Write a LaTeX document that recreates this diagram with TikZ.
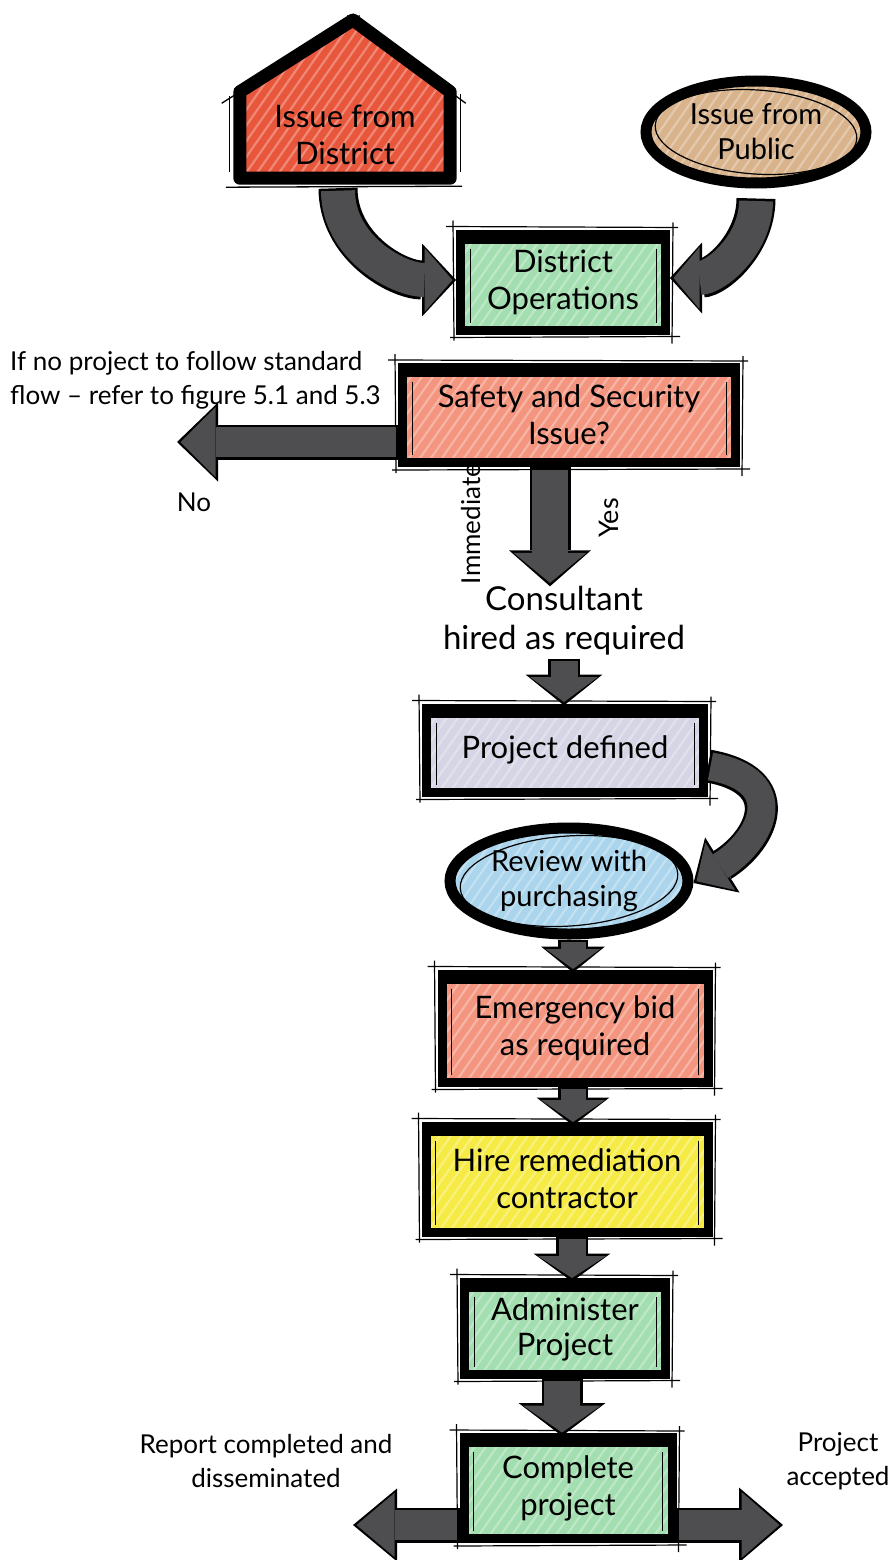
\documentclass[tikz,border=0pt]{standalone}
\usepackage{fontspec}
\setmainfont{Lato}
\usetikzlibrary{arrows.meta,shapes.geometric,patterns.meta,backgrounds,calc}

\definecolor{housered}{HTML}{E8563C}
\definecolor{tanfill}{HTML}{D8B38B}
\definecolor{mint}{HTML}{A2DEB0}
\definecolor{salmon}{HTML}{F3957F}
\definecolor{lavender}{HTML}{D5D5E5}
\definecolor{skyfill}{HTML}{ABD5EC}
\definecolor{lemon}{HTML}{F6EB45}
\definecolor{arrowgrey}{HTML}{4E4E50}

\newcommand\boxfont{\fontsize{31}{37}\selectfont}
\newcommand\blobfont{\fontsize{29}{35}\selectfont}
\newcommand\notefont{\fontsize{26}{34}\selectfont}

% fat marker arrow: #1 shaft width, #2 head width, #3 head length, #4 path
\newcommand\fatarrow[4]{%
  \pgfmathsetmacro\outw{#1+5}\pgfmathsetmacro\outhw{#2+9}\pgfmathsetmacro\outhl{#3+6}%
  \draw[line width=\outw pt, draw=black,
        -{Triangle[line width=0pt,width=\outhw pt,length=\outhl pt]}] #4;
  \draw[line width=#1pt, draw=arrowgrey, shorten >=3.5pt, shorten <=2.5pt,
        -{Triangle[line width=0pt,width=#2pt,length=#3pt]}] #4;}

% marker-style extra strokes around a box
\newcommand\roughbox[1]{%
  \draw[line width=6pt] ([yshift=-11]#1.north west) -- ([yshift=-11]#1.north east);
  \draw[line width=1.2pt] ([shift={(-10,3)}]#1.north west) -- ([shift={(8,2)}]#1.north east);
  \draw[line width=1.2pt] ([shift={(-6,-3)}]#1.south west) -- ([shift={(10,-2)}]#1.south east);
  \draw[line width=1.2pt] ([shift={(-3,9)}]#1.north west) -- ([shift={(-2,-6)}]#1.south west);
  \draw[line width=1.2pt] ([shift={(3,7)}]#1.north east) -- ([shift={(2,-9)}]#1.south east);
  \draw[line width=1pt] ([shift={(14,-19)}]#1.north west) -- ([shift={(14,12)}]#1.south west);
  \draw[line width=1pt] ([shift={(-14,-19)}]#1.north east) -- ([shift={(-14,12)}]#1.south east);}

\begin{document}
\begin{tikzpicture}[x=1pt,y=1pt,
  hatch/.style={pattern={Lines[angle=55,distance=9pt,line width=2.2pt]},
                pattern color=white, opacity=0.3},
  stepbox/.style={rectangle, draw=black, line width=9pt, preaction={fill=#1},
                  preaction={hatch}, align=center, inner sep=0pt, font=\boxfont},
  blob/.style={ellipse, draw=black, line width=11pt, preaction={fill=#1},
               preaction={hatch}, align=center, inner xsep=0pt, inner ysep=-8pt,
               font=\blobfont},
  note/.style={align=center, inner sep=0pt, font=\notefont},
  bigtext/.style={align=center, inner sep=0pt, font=\fontsize{33}{39}\selectfont}]

\path[use as bounding box] (0,0) rectangle (891,-1560);

% ---------- sources ----------
\coordinate (apex) at (353,-20);
\node[rectangle, minimum width=210pt, minimum height=86pt, inner sep=0pt,
      align=center, font=\boxfont] (house) at (345,-135) {Issue from\\District};
\begin{pgfonlayer}{background}
  \draw[line width=13pt, line join=round, preaction={fill=housered}, preaction={hatch}]
    (house.south west) -- (house.north west) -- (apex) -- (house.north east)
    -- (house.south east) -- cycle;
\end{pgfonlayer}
\draw[line width=1.3pt] ($(house.north west)!-0.16!(apex)$) -- ($(apex)!-0.06!(house.north west)$);
\draw[line width=1.3pt] ($(house.north east)!-0.16!(apex)$) -- ($(apex)!-0.06!(house.north east)$);
\draw[line width=1.3pt] ([shift={(-14,-9)}]house.south west) -- ([shift={(12,-8)}]house.south east);
\draw[line width=1pt] ([shift={(-10,-4)}]house.north west) -- ([shift={(-10,6)}]house.south west);
\draw[line width=1pt] ([shift={(10,-2)}]house.north east) -- ([shift={(10,6)}]house.south east);

\node[blob=tanfill, minimum width=220pt, minimum height=102pt] (pub) at (756,-132) {Issue from\\Public};
\draw[line width=1.2pt, rotate around={-4:(pub.center)}] (pub.center) ellipse [x radius=101, y radius=42];

% ---------- main flow ----------
\node[stepbox=mint, minimum width=205pt, minimum height=96pt] (ops) at (563,-282) {District\\Operations};
\roughbox{ops}

\node[note, anchor=west, align=left] (ifno) at (10,-380)
  {If no project to follow standard\\flow -- refer to figure 5.1 and 5.3};

\node[stepbox=salmon, minimum width=333pt, minimum height=95pt] (sf) at (569,-415) {Safety and Security\\Issue?};
\roughbox{sf}
\coordinate (noend) at (177,-442);
\node[note] (no) at (194,-502) {No};
\node[note, rotate=90] (imm) at (471,-524) {Immediate};
\node[note, rotate=90, font=\fontsize{27}{30}\selectfont] (yes) at (609,-518) {Yes};

\node[bigtext] (cons) at (564,-621) {Consultant\\hired as required};

\node[stepbox=lavender, minimum width=277pt, minimum height=84pt] (pd) at (565,-750) {Project defined};
\roughbox{pd}

\node[blob=skyfill, minimum width=238pt, minimum height=106pt] (rv) at (569,-881) {Review with\\purchasing};
\draw[line width=1.2pt, rotate around={4:(rv.center)}] (rv.center) ellipse [x radius=109, y radius=45];

\node[stepbox=salmon, minimum width=266pt, minimum height=108pt] (em) at (575,-1028) {Emergency bid\\as required};
\roughbox{em}

\node[stepbox=lemon, minimum width=282pt, minimum height=106pt] (hr) at (567,-1179) {Hire remediation\\contractor};
\roughbox{hr}

\node[stepbox=mint, minimum width=201pt, minimum height=92pt,
      font=\fontsize{31}{35}\selectfont, text depth=2pt] (ad) at (565,-1328) {Administer\\Project};
\roughbox{ad}

\node[stepbox=mint, minimum width=208pt, minimum height=101pt] (cp) at (568,-1488) {Complete\\project};
\roughbox{cp}

\node[note] (rep) at (266,-1461) {Report completed and\\disseminated};
\node[note] (acc) at (838,-1461) {Project\\accepted};
\coordinate (repend) at (353,-1525);
\coordinate (accend) at (783,-1525);

% ---------- connectors ----------
\fatarrow{34}{64}{28}{([shift={(-7,-10)}]house.south) to[out=-90,in=180] ([yshift=2]ops.west)}
\fatarrow{34}{62}{26}{([yshift=-10]pub.south) to[out=-90,in=0] ([yshift=4]ops.east)}
\fatarrow{30}{70}{35}{([yshift=-27]sf.west) -- (noend)}
\fatarrow{36}{73}{30}{([xshift=-19]sf.south) -- ([xshift=-19]sf.south |- cons.north)}
\fatarrow{27}{68}{25}{([yshift=-3]cons.south) -- ([yshift=-2]cons.south |- pd.north)}
\fatarrow{28}{56}{28}{([yshift=-16]pd.east) to[out=-10,in=32,looseness=1.8] ([yshift=-2]rv.east)}
\fatarrow{25}{55}{20}{([xshift=4]rv.south) -- ([shift={(4,-3)}]rv.south |- em.north)}
\fatarrow{25}{64}{22}{([xshift=-2]em.south) -- ([shift={(-2,-4)}]em.south |- hr.north)}
\fatarrow{27}{68}{22}{([xshift=5]hr.south) -- ([shift={(5,-4)}]hr.south |- ad.north)}
\fatarrow{36}{78}{27}{([xshift=-3]ad.south) -- ([shift={(-3,-3)}]ad.south |- cp.north)}
\fatarrow{30}{64}{38}{([yshift=-37]cp.west) -- (repend)}
\fatarrow{30}{66}{38}{([yshift=-37]cp.east) -- (accend)}

\end{tikzpicture}
\end{document}
